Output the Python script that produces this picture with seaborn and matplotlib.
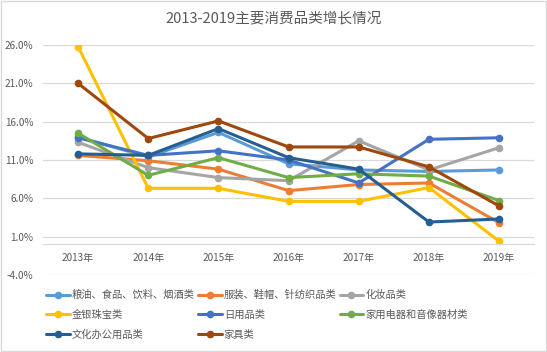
import numpy as np
import pandas as pd
import matplotlib
matplotlib.use('Agg')
import matplotlib.pyplot as plt
import seaborn as sns
from matplotlib.lines import Line2D
from matplotlib.patches import Rectangle

years = ['2013年', '2014年', '2015年', '2016年', '2017年', '2018年', '2019年']
categories = ['粮油、食品、饮料、烟酒类', '服装、鞋帽、针纺织品类', '化妆品类', '金银珠宝类',
              '日用品类', '家用电器和音像器材类', '文化办公用品类', '家具类']

grain = [14.0, 11.4, 14.6, 10.5, 9.7, 9.5, 9.7]
clothing = [11.6, 10.9, 9.8, 7.0, 7.8, 8.0, 2.8]
cosmetics = [13.3, 10.0, 8.7, 8.3, 13.5, 9.7, 12.6]
jewelry = [25.8, 7.3, 7.3, 5.6, 5.6, 7.4, 0.4]
daily = [13.9, 11.6, 12.2, 11.0, 8.0, 13.7, 13.9]
appliance = [14.5, 9.0, 11.3, 8.7, 9.2, 8.9, 5.7]
office = [11.8, 11.6, 15.1, 11.3, 9.8, 2.9, 3.3]
furniture = [21.0, 13.8, 16.1, 12.7, 12.7, 10.1, 5.0]
series = [grain, clothing, cosmetics, jewelry, daily, appliance, office, furniture]

colors = ['#5B9BD5', '#ED7D31', '#A5A5A5', '#FFC000', '#4472C4', '#70AD47', '#255E91', '#9E480E']

rows = []
for cat, vals in zip(categories, series):
    for yr, v in zip(years, vals):
        rows.append({'year': yr, 'value': v, 'category': cat})
df = pd.DataFrame(rows)

sns.set_style('white')
plt.rcParams['font.family'] = ['Noto Sans CJK SC', 'DejaVu Sans']

fig = plt.figure(figsize=(5.47, 3.52), dpi=100)
ax = fig.add_axes([0.0786, 0.219, 0.898, 0.653])

sns.lineplot(data=df, x='year', y='value', hue='category', hue_order=categories,
             palette=colors, marker='o', markersize=5.5, markeredgewidth=0,
             linewidth=2.2, ax=ax, legend=False, sort=False)

ax.set_xlim(-0.5, 6.5)
ax.set_ylim(-4, 26)
yt = np.arange(-4, 27, 5)
ax.set_yticks(yt)
ax.set_yticklabels([f'{v:.1f}%' for v in yt])
ax.grid(True, axis='y', color='#D9D9D9', linewidth=0.9)
ax.set_axisbelow(True)
for s in ['top', 'right', 'left']:
    ax.spines[s].set_visible(False)
ax.spines['bottom'].set_position(('data', 0))
ax.spines['bottom'].set_color('#D9D9D9')
ax.spines['bottom'].set_linewidth(0.9)
ax.tick_params(axis='both', length=0, labelsize=7.2, colors='#595959')
ax.tick_params(axis='y', pad=7)
ax.tick_params(axis='x', pad=6)
ax.set_xlabel('')
ax.set_ylabel('')

fig.text(0.5, 0.947, '2013-2019主要消费品类增长情况', ha='center', va='center',
         fontsize=10.5, color='#595959')

handles = [Line2D([0], [0], color=c, lw=2.2, marker='o', markersize=5.5, markeredgewidth=0)
           for c in colors]
order = [0, 3, 6, 1, 4, 7, 2, 5]
leg = fig.legend([handles[i] for i in order], [categories[i] for i in order],
                 ncol=3, loc='upper left', bbox_to_anchor=(0.077, 0.188), frameon=False,
                 fontsize=7.4, handlelength=2.3, handletextpad=0.2, columnspacing=0.3,
                 labelspacing=0.95, borderaxespad=0)
for t in leg.get_texts():
    t.set_color('#595959')

fig.patches.append(Rectangle((0.002, 0.003), 0.996, 0.994, transform=fig.transFigure,
                             fill=False, edgecolor='#D9D9D9', linewidth=1))

fig.savefig('out.png', dpi=100)
